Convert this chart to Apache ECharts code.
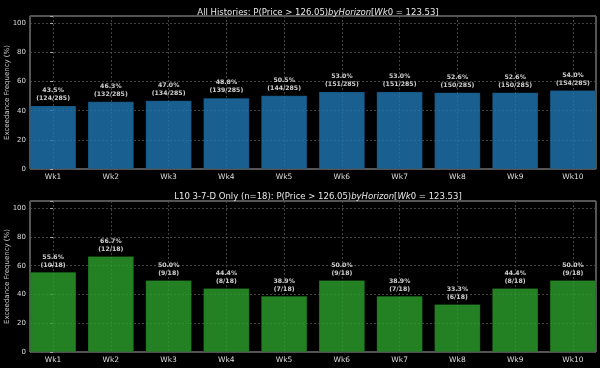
<!DOCTYPE html>
<html>
<head>
<meta charset="utf-8">
<script src="https://cdn.jsdelivr.net/npm/echarts@6/dist/echarts.min.js"></script>
<style>
  html, body { margin: 0; padding: 0; background: #000; }
  #chart { width: 600px; height: 368px; }
</style>
</head>
<body>
<div id="chart"></div>
<script>
// 数据
const weeks = ['Wk1', 'Wk2', 'Wk3', 'Wk4', 'Wk5', 'Wk6', 'Wk7', 'Wk8', 'Wk9', 'Wk10']
const allPct = [43.5, 46.3, 47.0, 48.8, 50.5, 53.0, 53.0, 52.6, 52.6, 54.0]
const allHits = [124, 132, 134, 139, 144, 151, 151, 150, 150, 154]
const allTotal = 285
const subPct = [55.6, 66.7, 50.0, 44.4, 38.9, 50.0, 38.9, 33.3, 44.4, 50.0]
const subHits = [10, 12, 9, 8, 7, 9, 7, 6, 8, 9]
const subTotal = 18
const yTicks = [0, 20, 40, 60, 80, 100]

const chart = echarts.init(document.getElementById('chart'))

const font = 'DejaVu Sans'
const gridLine = { show: true, lineStyle: { color: '#555', type: [2, 2], width: 0.8 } }

// x 轴: 数值轴 -0.4 ~ 9.4, 与 matplotlib 一致
const makeX = (gridIndex) => ({
  type: 'value',
  gridIndex,
  min: -0.4,
  max: 9.4,
  splitNumber: 10,
  minInterval: 1,
  maxInterval: 1,
  axisLine: { show: false },
  axisTick: { show: false },
  splitLine: gridLine,
  axisLabel: {
    color: '#ddd',
    fontFamily: font,
    fontSize: 7.5,
    margin: 4,
    showMinLabel: true,
    showMaxLabel: true,
    formatter: (v) => (Number.isInteger(v) && weeks[v] ? weeks[v] : '')
  }
})

const makeY = (gridIndex) => ({
  type: 'value',
  gridIndex,
  min: 0,
  max: 105,
  interval: 20,
  name: 'Exceedance Frequency (%)',
  nameLocation: 'middle',
  nameGap: 19,
  nameMoveOverlap: false,
  nameTextStyle: { color: '#ccc', fontFamily: font, fontSize: 7 },
  axisLine: { show: false },
  axisTick: { show: true, length: 3, lineStyle: { color: '#aaa' } },
  splitLine: gridLine,
  axisLabel: {
    color: '#ddd',
    fontFamily: font,
    fontSize: 7,
    margin: 4,
    formatter: (v) => (yTicks.includes(v) ? String(v) : '')
  }
})

const makeSeries = (idx, pct, hits, total, color) => ({
  type: 'bar',
  xAxisIndex: idx,
  yAxisIndex: idx,
  barWidth: '80%',
  data: pct.map((v, i) => [i, v]),
  itemStyle: { color, opacity: 0.8, borderColor: 'rgba(0,0,0,0.35)', borderWidth: 0.6 },
  label: {
    show: true,
    position: 'top',
    distance: 3,
    color: '#fff',
    fontFamily: font,
    fontWeight: 'bold',
    fontSize: 6.2,
    lineHeight: 8,
    formatter: (p) => `${pct[p.dataIndex].toFixed(1)}%\n(${hits[p.dataIndex]}/${total})`
  }
})

const titleRich = {
  n: { color: '#e8e8e8', fontFamily: font, fontSize: 8.5, fontWeight: 'normal' },
  i: { color: '#e8e8e8', fontFamily: font, fontSize: 8.5, fontWeight: 'normal', fontStyle: 'italic' }
}

const gridBase = {
  left: 30,
  right: 4,
  show: true,
  borderColor: '#aaa',
  borderWidth: 1,
  backgroundColor: 'transparent',
  containLabel: false,
  outerBoundsMode: 'none'
}

const option = {
  backgroundColor: '#000',
  animation: false,
  title: [
    {
      text: '{n|All Histories: P(Price > 126.05)}{i|byHorizon}{n|[}{i|Wk}{n|0 = 123.53]}',
      left: 313,
      textAlign: 'center',
      top: 3,
      textStyle: { fontWeight: 'normal', rich: titleRich }
    },
    {
      text: '{n|L10 3-7-D Only (n=18): P(Price > 126.05)}{i|byHorizon}{n|[}{i|Wk}{n|0 = 123.53]}',
      left: 313,
      textAlign: 'center',
      top: 187,
      textStyle: { fontWeight: 'normal', rich: titleRich }
    }
  ],
  grid: [
    { ...gridBase, top: 16, height: 153 },
    { ...gridBase, top: 201, height: 151 }
  ],
  xAxis: [makeX(0), makeX(1)],
  yAxis: [makeY(0), makeY(1)],
  series: [
    makeSeries(0, allPct, allHits, allTotal, '#1f77b4'),
    makeSeries(1, subPct, subHits, subTotal, '#2ca02c')
  ]
}

chart.setOption(option)
</script>
</body>
</html>
